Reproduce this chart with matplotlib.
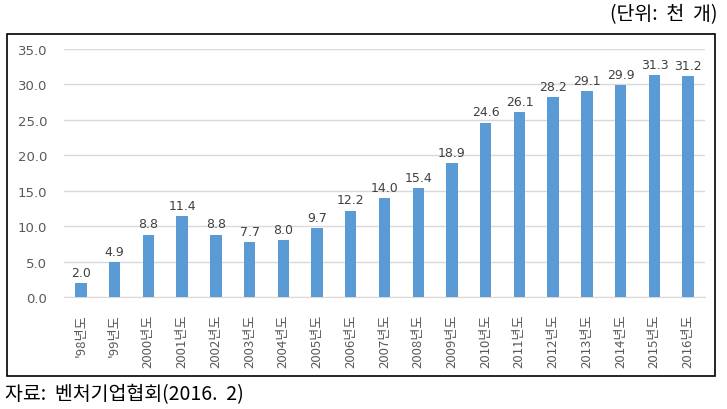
import matplotlib.pyplot as plt
from matplotlib.patches import Rectangle

plt.rcParams['font.family'] = ['Noto Sans CJK KR', 'DejaVu Sans']

years = ["'98", "'99", "2000", "2001", "2002", "2003", "2004", "2005", "2006",
         "2007", "2008", "2009", "2010", "2011", "2012", "2013", "2014", "2015", "2016"]
labels = [y + "년도" for y in years]
values = [2.0, 4.9, 8.8, 11.4, 8.8, 7.7, 8.0, 9.7, 12.2, 14.0, 15.4, 18.9,
          24.6, 26.1, 28.2, 29.1, 29.9, 31.3, 31.2]
yticks = [0, 5, 10, 15, 20, 25, 30, 35]

W, H = 727, 410
fig = plt.figure(figsize=(W / 100, H / 100), dpi=100)

# outer frame of the chart box
fig.patches.append(Rectangle((7 / W, 1 - 377 / H), 708 / W, 342 / H,
                             transform=fig.transFigure, fill=False,
                             edgecolor='black', lw=1.2))

ax = fig.add_axes([64 / W, 1 - 298 / H, 641 / W, 248 / H])
x = range(len(values))
ax.bar(x, values, width=0.34, color='#5B9BD5', zorder=3)
for xi, v in zip(x, values):
    ax.text(xi, v + 0.6, f"{v:.1f}", ha='center', va='bottom',
            fontsize=9, color='#404040', family='DejaVu Sans')

ax.set_xlim(-0.5, len(values) - 0.5)
ax.set_ylim(0, 35)
ax.set_yticks(yticks)
ax.set_yticklabels([f"{t:.1f}" for t in yticks], fontsize=9.5, color='#595959',
                   family='DejaVu Sans')
ax.set_xticks(list(x))
ax.set_xticklabels(labels, rotation=90, fontsize=9.5, color='#595959')
ax.grid(axis='y', color='#D9D9D9', lw=1, zorder=0)
ax.tick_params(length=0)
ax.tick_params(axis='x', pad=12)
ax.tick_params(axis='y', pad=12)
for s in ['top', 'right', 'left']:
    ax.spines[s].set_visible(False)
ax.spines['bottom'].set_color('#D9D9D9')

fig.text(718 / W, 1 - 15 / H, "(단위:  천  개)", ha='right', va='center', fontsize=14)
fig.text(5 / W, 1 - 395 / H, "자료:  벤처기업협회(2016.  2)", ha='left', va='center', fontsize=14)

fig.savefig('out.png', dpi=100)
